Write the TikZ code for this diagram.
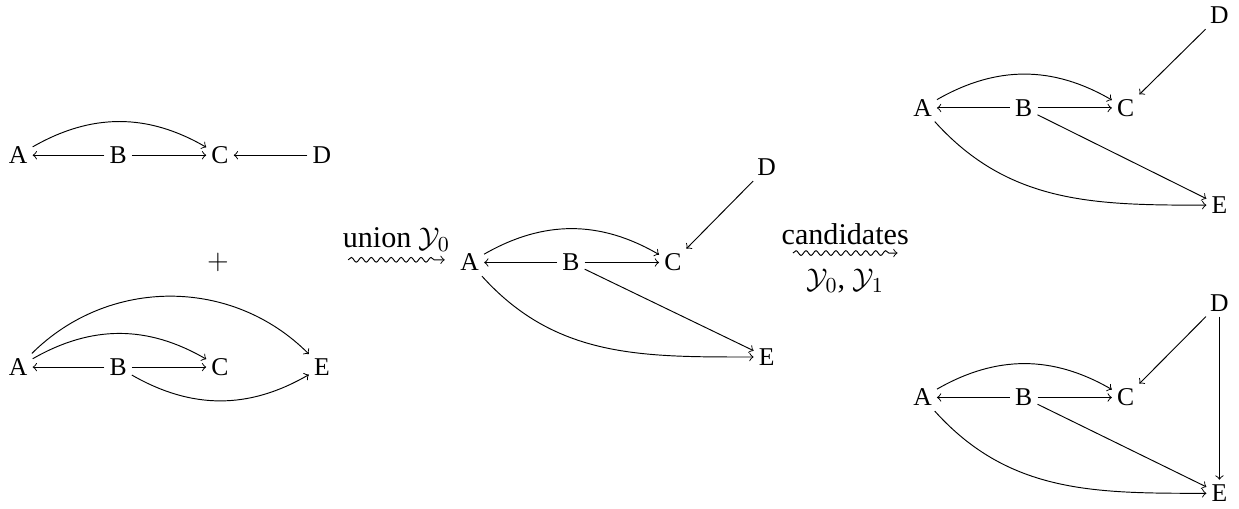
\documentclass[tikz,border=0pt]{standalone}
\usepackage{fontspec}
\setmainfont{Liberation Serif}
\usetikzlibrary{decorations.pathmorphing}

\tikzset{
    vertex/.style={inner sep=2pt, font=\fontsize{10.8}{12}\selectfont},
    labeltext/.style={font=\fontsize{12.7}{15}\selectfont},
    wavy/.style={->, decorate, decoration={snake, amplitude=1pt, segment length=4.2pt, post length=2.5pt}}
}

\begin{document}
\begin{tikzpicture}[>=to]
        \useasboundingbox (0,0) rectangle (18.36,7.53);

        % prvni graf
        \node[vertex] (a1) at (0.27,5.23) {A};
        \node[vertex] (b1) at (1.75,5.23) {B};
        \node[vertex] (c1) at (3.26,5.23) {C};
        \node[vertex] (d1) at (4.77,5.23) {D};
        \draw[->] (b1) -- (a1);
        \draw[->] (b1) -- (c1);
        \draw[->] (d1) -- (c1);
        \draw[->] (a1) to[bend left=30] (c1);

        \node[labeltext] (plus) at (3.23,3.64) {$+$};

        % druhy graf
        \node[vertex] (a2) at (0.27,2.09) {A};
        \node[vertex] (b2) at (1.75,2.09) {B};
        \node[vertex] (c2) at (3.26,2.09) {C};
        \node[vertex] (e2) at (4.77,2.09) {E};
        \draw[->] (b2) -- (a2);
        \draw[->] (b2) -- (c2);
        \draw[->] (a2) to[bend left=30] (c2);
        \draw[->] (a2) to[bend left=45] (e2);
        \draw[->] (b2) to[bend right=30] (e2);

        % sjednoceni
        \coordinate (u1) at (5.16,3.68);
        \coordinate (u2) at (6.59,3.68);
        \draw[wavy] (u1) -- node[above, labeltext] {union $\mathcal{Y}_0$} (u2);

        \node[vertex] (a3) at (6.96,3.64) {A};
        \node[vertex] (b3) at (8.46,3.64) {B};
        \node[vertex] (c3) at (9.97,3.64) {C};
        \node[vertex] (d3) at (11.36,5.05) {D};
        \node[vertex] (e3) at (11.36,2.24) {E};
        \draw[->] (b3) -- (a3);
        \draw[->] (b3) -- (c3);
        \draw[->] (a3) to[bend left=30] (c3);
        \draw[->] (d3) -- (c3);
        \draw[->] (b3) -- (e3);
        \draw[->] (a3) to[out=-48, in=180] (e3);

        % kandidati
        \coordinate (k1) at (11.75,3.78);
        \coordinate (k2) at (13.30,3.78);
        \draw[wavy] (k1) -- node[above, labeltext] {candidates}
                node[below=3pt, labeltext] {$\mathcal{Y}_0$, $\mathcal{Y}_1$} (k2);

        % prvni kandidat
        \node[vertex] (a4) at (13.67,5.93) {A};
        \node[vertex] (b4) at (15.17,5.93) {B};
        \node[vertex] (c4) at (16.68,5.93) {C};
        \node[vertex] (d4) at (18.07,7.30) {D};
        \node[vertex] (e4) at (18.07,4.49) {E};
        \draw[->] (b4) -- (a4);
        \draw[->] (b4) -- (c4);
        \draw[->] (a4) to[bend left=30] (c4);
        \draw[->] (d4) -- (c4);
        \draw[->] (b4) -- (e4);
        \draw[->] (a4) to[out=-48, in=180] (e4);

        % druhy kandidat
        \node[vertex] (a5) at (13.67,1.64) {A};
        \node[vertex] (b5) at (15.17,1.64) {B};
        \node[vertex] (c5) at (16.68,1.64) {C};
        \node[vertex] (d5) at (18.07,3.04) {D};
        \node[vertex] (e5) at (18.07,0.22) {E};
        \draw[->] (b5) -- (a5);
        \draw[->] (b5) -- (c5);
        \draw[->] (a5) to[bend left=30] (c5);
        \draw[->] (d5) -- (c5);
        \draw[->] (d5) -- (e5);
        \draw[->] (b5) -- (e5);
        \draw[->] (a5) to[out=-48, in=180] (e5);

    \end{tikzpicture}
\end{document}
